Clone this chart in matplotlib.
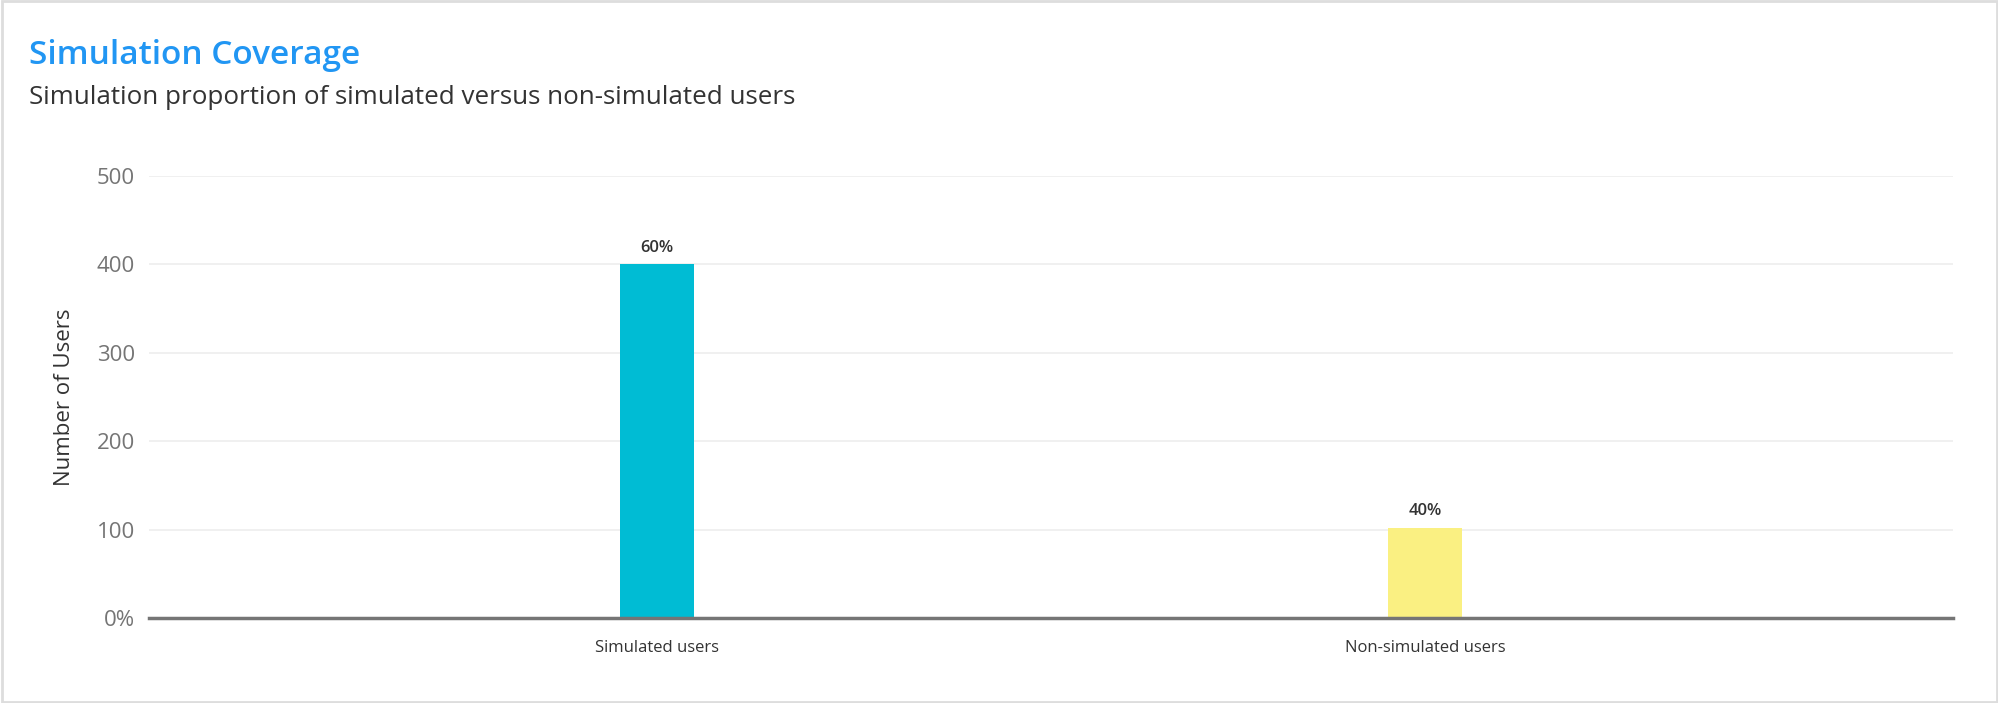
import matplotlib
matplotlib.use("Agg")
from matplotlib import pyplot as plt
from matplotlib.patches import Rectangle

# data
categories = ["Simulated users", "Non-simulated users"]
users = [400, 102]
share_labels = ["60%", "40%"]
bar_colors = ["#00BCD4", "#FAF082"]
y_ticks = [0, 100, 200, 300, 400, 500]
y_tick_labels = ["0%", "100", "200", "300", "400", "500"]

plt.rcParams['font.family'] = ['Open Sans', 'DejaVu Sans']

W, H = 1999, 703
fig = plt.figure(figsize=(W / 100, H / 100), dpi=100)
fig.patch.set_facecolor("white")

# outer card border
fig.patches.append(Rectangle((0.001, 0.002), 0.998, 0.996, transform=fig.transFigure,
                             fill=False, edgecolor="#dddddd", linewidth=2))

fig.text(29 / W, 1 - 56 / H, "Simulation Coverage", color="#2196F3",
         fontsize=24, fontweight="semibold", va="center", ha="left")
fig.text(29 / W, 1 - 98 / H, "Simulation proportion of simulated versus non-simulated users",
         color="#333333", fontsize=18.7, va="center", ha="left")

left, right, bottom, top = 149, 1953, 618, 176
ax = fig.add_axes([left / W, 1 - bottom / H, (right - left) / W, (bottom - top) / H])

x = list(range(len(categories)))
bars = ax.bar(x, users, width=0.096, color=bar_colors, zorder=3)
for b, lab in zip(bars, share_labels):
    ax.annotate(lab, (b.get_x() + b.get_width() / 2, b.get_height()),
                xytext=(0, 6), textcoords="offset points", ha="center", va="bottom",
                fontsize=12, color="#333333", fontweight="semibold")

ax.set_xlim(-0.6615, 1.6875)
ax.set_ylim(0, 500)
ax.set_yticks(y_ticks)
ax.set_yticklabels(y_tick_labels)
ax.set_xticks(x)
ax.set_xticklabels(categories)
ax.tick_params(axis="y", length=0, pad=10, labelsize=16, labelcolor="#757575")
ax.tick_params(axis="x", length=0, pad=16, labelsize=12, labelcolor="#333333")
ax.grid(axis="y", color="#eeeeee", linewidth=1.2, zorder=0)
for s in ["top", "right", "left"]:
    ax.spines[s].set_visible(False)
ax.spines["bottom"].set_color("#757575")
ax.spines["bottom"].set_linewidth(2.5)
ax.spines["bottom"].set_zorder(4)
ax.set_ylabel("Number of Users", fontsize=16, color="#333333")
ax.yaxis.set_label_coords(-0.041, 0.5)

fig.savefig("out.png", dpi=100, facecolor="white")
